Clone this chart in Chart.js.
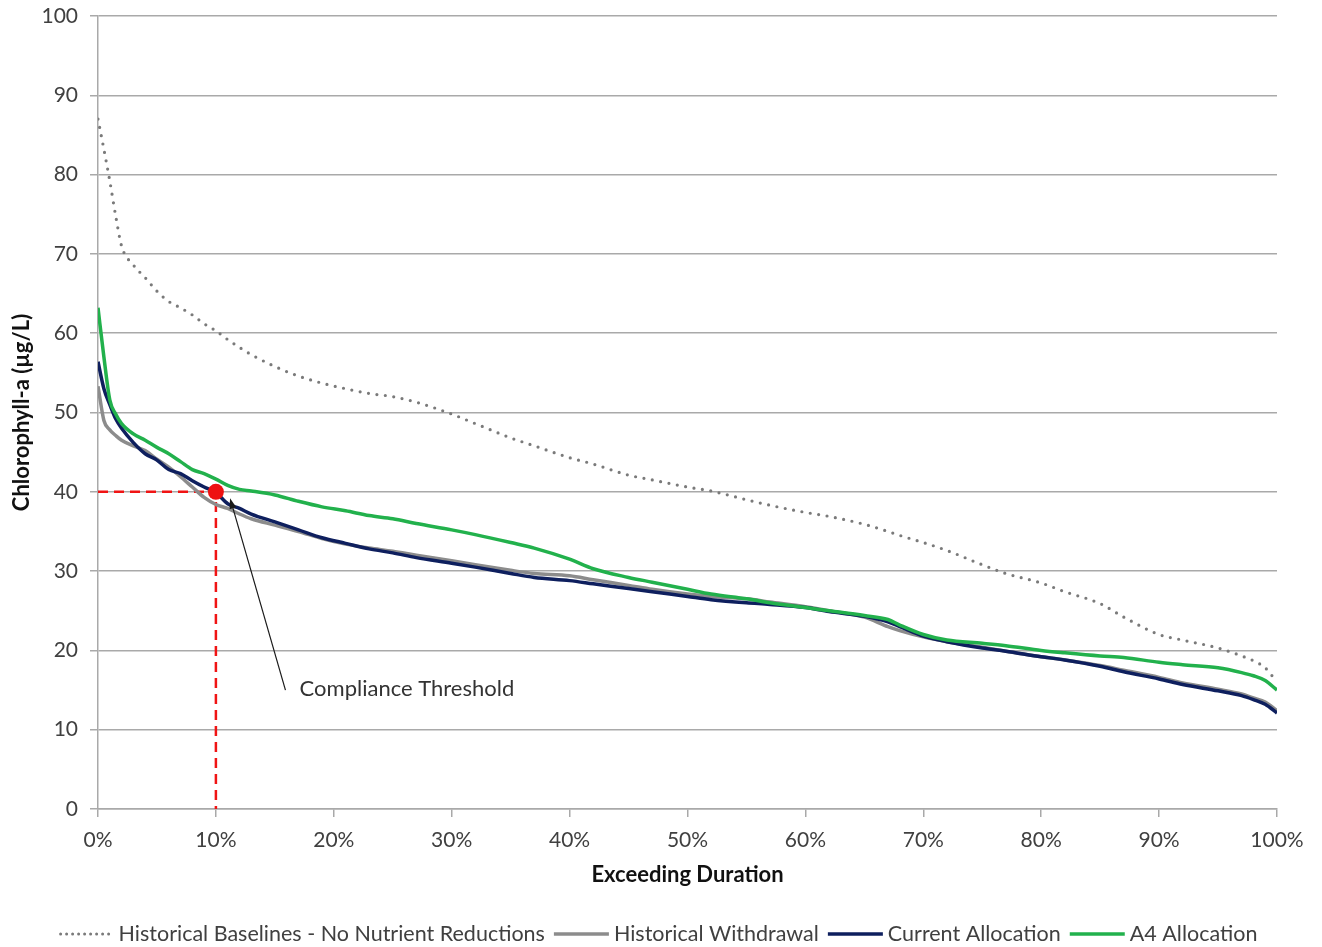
<!DOCTYPE html>
<html>
<head>
<meta charset="utf-8">
<script src="https://cdn.jsdelivr.net/npm/chart.js@4.4.1/dist/chart.umd.min.js"></script>
<style>
  html, body { margin: 0; padding: 0; background: #ffffff; }
  #wrap { width: 1322px; height: 947px; position: relative; }
</style>
</head>
<body>
<div id="wrap"><canvas id="chart"></canvas></div>
<script>
// Exceedance duration (% of time a concentration is exceeded)
const exceedPct = [0, 0.5, 1, 1.5, 2, 3, 4, 5, 6, 7, 8, 9, 10, 11, 12, 13, 15, 17, 19, 21, 23, 25, 27,
  30, 32, 35, 37, 40, 42, 45, 47, 50, 52, 55, 57, 60, 62, 65, 67, 68, 70, 72, 75, 77, 80, 82, 85, 87,
  90, 92, 95, 97, 98, 99, 100];

// Chlorophyll-a (µg/L) for each scenario
const baselineNoReduction = [87, 83.2, 79.2, 74.8, 71, 68.6, 67, 65.3, 64, 63.2, 62.3, 61.2, 60.3, 59.2, 58.2, 57.3, 55.8, 54.6, 53.7, 53, 52.4, 52, 51.3,
  49.8, 48.6, 46.8, 45.8, 44.3, 43.5, 42.1, 41.5, 40.6, 40.1, 39, 38.3, 37.4, 36.9, 35.9, 35, 34.5, 33.6, 32.6, 30.8, 29.7, 28.5, 27.4, 25.9, 24.2,
  22, 21.3, 20.3, 19.3, 18.7, 17.8, 16];
const historicalWithdrawal = [53.3, 49, 47.8, 47.1, 46.5, 45.8, 45.2, 44.1, 43.1, 41.9, 40.6, 39.3, 38.4, 37.9, 37.2, 36.6, 35.8, 35, 34.1, 33.4, 32.9, 32.5, 32,
  31.3, 30.8, 30.1, 29.7, 29.4, 28.9, 28.2, 27.7, 27.1, 26.8, 26.5, 26.1, 25.5, 25, 24.2, 23, 22.5, 21.7, 21.1, 20.4, 19.9, 19.2, 18.8, 18.1, 17.5,
  16.6, 15.9, 15.1, 14.5, 14, 13.5, 12.4];
const currentAllocation = [56.4, 53, 51, 49.2, 48, 46.2, 44.8, 44, 42.8, 42.3, 41.4, 40.6, 39.9, 38.5, 37.9, 37.2, 36.2, 35.2, 34.2, 33.5, 32.8, 32.3, 31.7,
  31, 30.5, 29.7, 29.2, 28.8, 28.4, 27.8, 27.4, 26.8, 26.4, 26, 25.8, 25.4, 24.9, 24.3, 23.6, 23, 21.8, 21.1, 20.3, 19.9, 19.2, 18.8, 18, 17.3,
  16.4, 15.7, 14.9, 14.3, 13.8, 13.2, 12.1];
const a4Allocation = [63.2, 57, 51.6, 49.8, 48.6, 47.3, 46.5, 45.6, 44.8, 43.8, 42.8, 42.3, 41.6, 40.8, 40.3, 40.1, 39.6, 38.8, 38.1, 37.6, 37, 36.6, 36,
  35.2, 34.6, 33.6, 32.9, 31.5, 30.3, 29.2, 28.6, 27.7, 27.1, 26.5, 26, 25.4, 25, 24.4, 23.9, 23.2, 22, 21.3, 20.9, 20.6, 20, 19.7, 19.3, 19.1,
  18.5, 18.2, 17.8, 17.2, 16.8, 16.2, 15];

// Axis ticks
const yTicks = [0, 10, 20, 30, 40, 50, 60, 70, 80, 90, 100];
const xTicks = [0, 10, 20, 30, 40, 50, 60, 70, 80, 90, 100];

// Compliance threshold: 40 µg/L exceeded no more than 10% of the time
const thresholdPct = 10;
const thresholdValue = 40;
const calloutText = 'Compliance Threshold';
const calloutTextAt = [17.1, 15.1];
const calloutArrowFrom = [15.9, 15.0];
const calloutArrowTo = [11.2, 39.2];

const FONT = 'Lato, "Open Sans", "Liberation Sans", sans-serif';
const GRID = '#a9a9a9';

const toPoints = ys => exceedPct.map((x, i) => ({ x, y: ys[i] }));

const datasets = [
  {
    label: 'threshold-point',
    data: [{ x: thresholdPct, y: thresholdValue }],
    showLine: false,
    pointRadius: 8,
    pointBackgroundColor: '#ee1111',
    pointBorderColor: '#ee1111',
    pointBorderWidth: 0,
    order: 0,
    inLegend: false
  },
  {
    label: 'A4 Allocation',
    data: toPoints(a4Allocation),
    borderColor: '#22b14c',
    borderWidth: 3.5,
    pointRadius: 0,
    cubicInterpolationMode: 'monotone',
    order: 1
  },
  {
    label: 'Current Allocation',
    data: toPoints(currentAllocation),
    borderColor: '#0e1f5e',
    borderWidth: 3.5,
    pointRadius: 0,
    cubicInterpolationMode: 'monotone',
    order: 2
  },
  {
    label: 'Historical Withdrawal',
    data: toPoints(historicalWithdrawal),
    borderColor: '#8c8c8c',
    borderWidth: 3.5,
    pointRadius: 0,
    cubicInterpolationMode: 'monotone',
    order: 3
  },
  {
    label: 'Historical Baselines - No Nutrient Reductions',
    data: toPoints(baselineNoReduction),
    borderColor: '#7a7a7a',
    borderWidth: 3.2,
    borderDash: [0, 8.5],
    borderCapStyle: 'round',
    pointRadius: 0,
    cubicInterpolationMode: 'monotone',
    order: 4
  },
  {
    label: 'threshold-lines',
    data: [{ x: 0, y: thresholdValue }, { x: thresholdPct, y: thresholdValue }, { x: thresholdPct, y: 0 }],
    borderColor: '#f01414',
    borderWidth: 2.5,
    borderDash: [10, 6],
    pointRadius: 0,
    order: 5,
    inLegend: false
  }
];

// Arrow and label for the compliance threshold
const calloutPlugin = {
  id: 'callout',
  afterDatasetsDraw(chart) {
    const { ctx, scales: { x, y } } = chart;
    const x0 = x.getPixelForValue(calloutArrowFrom[0]);
    const y0 = y.getPixelForValue(calloutArrowFrom[1]);
    const x1 = x.getPixelForValue(calloutArrowTo[0]);
    const y1 = y.getPixelForValue(calloutArrowTo[1]);
    const ang = Math.atan2(y1 - y0, x1 - x0);
    const head = 11, spread = 0.32;
    ctx.save();
    ctx.strokeStyle = '#1a1a1a';
    ctx.fillStyle = '#1a1a1a';
    ctx.lineWidth = 1.2;
    ctx.beginPath();
    ctx.moveTo(x0, y0);
    ctx.lineTo(x1 - Math.cos(ang) * head * 0.8, y1 - Math.sin(ang) * head * 0.8);
    ctx.stroke();
    ctx.beginPath();
    ctx.moveTo(x1, y1);
    ctx.lineTo(x1 - Math.cos(ang - spread) * head, y1 - Math.sin(ang - spread) * head);
    ctx.lineTo(x1 - Math.cos(ang + spread) * head, y1 - Math.sin(ang + spread) * head);
    ctx.closePath();
    ctx.fill();
    ctx.font = '22px ' + FONT;
    ctx.fillStyle = '#333333';
    ctx.textBaseline = 'middle';
    ctx.textAlign = 'left';
    ctx.fillText(calloutText, x.getPixelForValue(calloutTextAt[0]), y.getPixelForValue(calloutTextAt[1]));
    ctx.restore();
  }
};

// Single-row legend with line samples under the axis title
const lineLegendPlugin = {
  id: 'lineLegend',
  afterDraw(chart, args, opts) {
    const { ctx } = chart;
    const items = chart.data.datasets.filter(d => d.inLegend !== false).slice().reverse();
    ctx.save();
    ctx.font = opts.fontSize + 'px ' + FONT;
    const widths = items.map(d => opts.sample + opts.sampleGap + ctx.measureText(d.label).width);
    const total = widths.reduce((a, b) => a + b, 0) + opts.itemGap * (items.length - 1);
    let cx = opts.centerX - total / 2;
    const cy = opts.y;
    items.forEach((d, i) => {
      ctx.beginPath();
      ctx.strokeStyle = d.borderColor;
      ctx.lineWidth = d.borderDash ? 3 : 3.5;
      ctx.setLineDash(d.borderDash ? [0, 6] : []);
      ctx.lineCap = d.borderDash ? 'round' : 'butt';
      ctx.moveTo(cx + (d.borderDash ? 2 : 0), cy);
      ctx.lineTo(cx + opts.sample, cy);
      ctx.stroke();
      ctx.setLineDash([]);
      ctx.fillStyle = '#404040';
      ctx.textBaseline = 'middle';
      ctx.textAlign = 'left';
      ctx.fillText(d.label, cx + opts.sample + opts.sampleGap, cy);
      cx += widths[i] + opts.itemGap;
    });
    ctx.restore();
  }
};

new Chart(document.getElementById('chart'), {
  type: 'line',
  data: { datasets },
  plugins: [calloutPlugin, lineLegendPlugin],
  options: {
    responsive: true,
    maintainAspectRatio: false,
    animation: false,
    events: [],
    layout: { padding: { top: 16, right: 45, bottom: 50, left: 0 } },
    plugins: {
      legend: { display: false },
      tooltip: { enabled: false },
      lineLegend: { y: 934, centerX: 658, fontSize: 21.5, sample: 55, sampleGap: 5, itemGap: 9 }
    },
    scales: {
      x: {
        type: 'linear',
        min: 0,
        max: 100,
        afterBuildTicks: s => { s.ticks = xTicks.map(v => ({ value: v })); },
        afterFit: s => { s.height = 88; },
        ticks: {
          callback: v => v + '%',
          font: { family: FONT, size: 21 },
          color: '#404040',
          padding: 11,
          maxRotation: 0
        },
        grid: { drawOnChartArea: false, drawTicks: true, tickLength: 8, color: GRID, lineWidth: 1.5 },
        border: { color: GRID, width: 1.5 },
        title: {
          display: true,
          text: 'Exceeding Duration',
          font: { family: FONT, size: 22, weight: 'bold' },
          color: '#111111',
          padding: { top: 0, bottom: 9 }
        }
      },
      y: {
        min: 0,
        max: 100,
        afterBuildTicks: s => { s.ticks = yTicks.map(v => ({ value: v })); },
        afterFit: s => { s.width = 98; s.paddingTop = 0; },
        ticks: {
          font: { family: FONT, size: 21 },
          color: '#404040',
          padding: 12
        },
        grid: { color: GRID, lineWidth: 1.5, tickLength: 8 },
        border: { color: GRID, width: 1.5 },
        title: {
          display: true,
          text: 'Chlorophyll-a (µg/L)',
          font: { family: FONT, size: 22, weight: 'bold' },
          color: '#111111',
          padding: { top: 9, bottom: 0 }
        }
      }
    }
  }
});
</script>
</body>
</html>
